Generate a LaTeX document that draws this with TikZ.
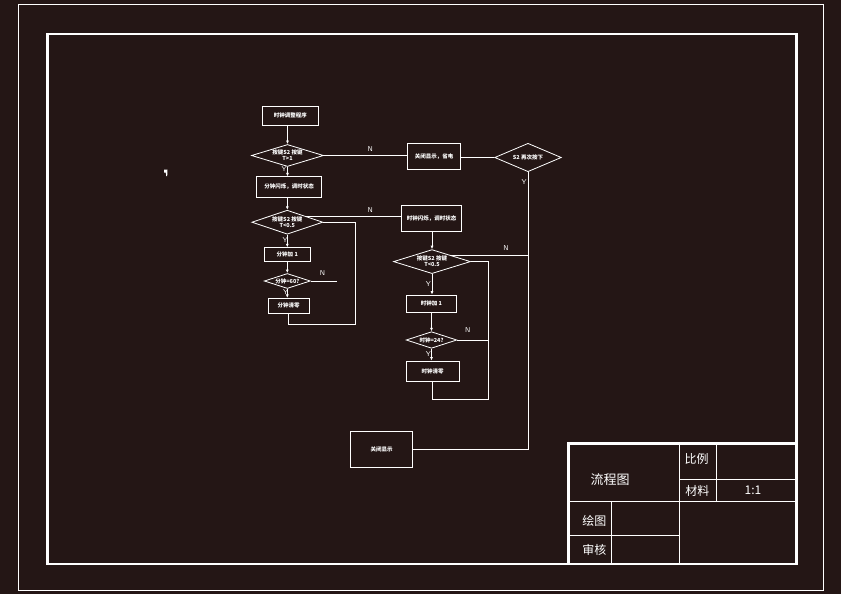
\documentclass[tikz,border=0pt]{standalone}
\usepackage{fontspec}
\newfontfamily\cjk{Noto Sans CJK SC}
\usetikzlibrary{shapes.geometric,arrows.meta}
\definecolor{bg}{RGB}{36,22,21}
\begin{document}
\begin{tikzpicture}[x=1pt,y=-1pt,
  wl/.style={draw=white,line width=0.8pt},
  fbox/.style={wl,text=white,inner sep=0pt,font=\cjk\bfseries\fontsize{5.5}{6}\selectfont},
  dia/.style={wl,shape=diamond,inner sep=0pt},
  dtext/.style={text=white,inner sep=0pt,align=center,font=\cjk\bfseries\fontsize{5.5}{6}\selectfont},
  arr/.style={wl,-{Latex[length=3.5pt,width=3pt]}},
  yn/.style={text=white,inner sep=0pt,font=\sffamily\fontsize{7}{7}\selectfont},
  tbtext/.style={text=white,inner sep=0pt,font=\cjk\fontsize{12}{12}\selectfont},
  frthin/.style={draw=white,line width=0.9pt},
  frthick/.style={draw=white,line width=2.6pt}]
\fill[bg] (0,0) rectangle (841,594);
\useasboundingbox (0,0) rectangle (841,594);
% frames
\draw[frthin] (18.3,4.3) rectangle (823.3,590.3);
\draw[frthick] (47.3,34) rectangle (796.5,564);
% small marker
\fill[white] (164,169.5) -- (167.5,169.5) -- (167.2,176) -- (166.2,176) -- (165.8,172.5) -- (164,172.5) -- cycle;

% left column
\node[fbox,minimum width=56,minimum height=18.5] (b1) at (290.3,115.8) {时钟调整程序};
\node[dia,minimum width=72,minimum height=22,label={[dtext]center:按键S2 按键\\T>1}] (d1) at (287.5,155.5) {};
\node[fbox,minimum width=65,minimum height=20.5] (b3) at (289.2,187) {分钟闪烁，调时状态};
\node[dia,minimum width=71,minimum height=24,label={[dtext]center:按键S2 按键\\T<0.5}] (d2) at (287.3,222.2) {};
\node[fbox,minimum width=46.5,minimum height=14] (b7) at (287.3,254.7) {分钟加 1};
\node[dia,minimum width=46,minimum height=15,label={[dtext]center:分钟=60?}] (d5) at (287.3,281) {};
\node[fbox,minimum width=40.7,minimum height=15] (b8) at (288.6,305.8) {分钟清零};

% top right
\node[fbox,minimum width=53.4,minimum height=26] (b2) at (434,156.3) {关闭显示，省电};
\node[dia,minimum width=66.7,minimum height=28.4,label={[dtext]center:S2 再次按下}] (d6) at (528,157.5) {};

% right column
\node[fbox,minimum width=60,minimum height=26.7] (b4) at (431.7,218.3) {时钟闪烁，调时状态};
\node[dia,minimum width=77,minimum height=24,label={[dtext]center:按键S2 按键\\T<0.5}] (d3) at (432,261.6) {};
\node[fbox,minimum width=50.7,minimum height=17.3] (b5) at (431.5,303.7) {时钟加 1};
\node[dia,minimum width=50.7,minimum height=16.6,label={[dtext]center:时钟=24?}] (d4) at (431.5,340) {};
\node[fbox,minimum width=53.3,minimum height=20.7] (b6) at (432.7,371.3) {时钟清零};

% bottom box
\node[fbox,minimum width=62,minimum height=36.3] (b9) at (381.7,449.2) {关闭显示};

% coordinates for bends and free ends
\coordinate (l1a) at (355.6,324.3);
\coordinate (l1b) at (355.6,222.2);
\coordinate (d5n) at (336.7,281);
\coordinate (r1a) at (488.3,399.3);
\coordinate (r1b) at (488.3,261.6);
\coordinate (s2bot) at (528,449.3);

% connectors left column
\draw[arr] (b1.south -| d1.north) -- (d1.north);
\draw[arr] (d1.south) -- (d1.south |- b3.north);
\draw[arr] (b3.south -| d2.north) -- (d2.north);
\draw[arr] (d2.south) -- (b7.north);
\draw[arr] (b7.south) -- (d5.north);
\draw[arr] (d5.south) -- (d5.south |- b8.north);
\draw[wl] (d5.east) -- (d5n);
\draw[wl] (b8.south) -- (b8.south |- l1a) -- (l1a) -- (l1b) -- (d2.east);

% N branches
\draw[wl] (d1.east) -- (b2.west |- d1.east);
\draw[wl] (b2.east |- d6.west) -- (d6.west);
\draw[wl] (d2.north east) -- (d2.north east -| b4.west);
\draw[wl] (d6.south) -- (s2bot) -- (b9.east |- s2bot);
\draw[wl] (d3.north east) -- (d3.north east -| s2bot);

% right column connectors
\draw[arr] (b4.south -| d3.north) -- (d3.north);
\draw[arr] (d3.south) -- (d3.south |- b5.north);
\draw[arr] (b5.south -| d4.north) -- (d4.north);
\draw[arr] (d4.south) -- (d4.south |- b6.north);
\draw[wl] (d4.east) -- (d4.east -| r1a);
\draw[wl] (b6.south) -- (b6.south |- r1a) -- (r1a) -- (r1b) -- (d3.east);

% Y / N labels
\node[yn] (n1) at (370.3,148.8) {N};
\node[yn] (y1) at (284,169.5) {Y};
\node[yn] (n2) at (370.3,210.3) {N};
\node[yn] (y2) at (285,240) {Y};
\node[yn] (n5) at (322.5,273) {N};
\node[yn] (y5) at (285.5,292) {Y};
\node[yn] (y6) at (524.2,182) {Y};
\node[yn] (n3) at (506,248.3) {N};
\node[yn] (y3) at (428.3,284.5) {Y};
\node[yn] (n4) at (467.7,330) {N};
\node[yn] (y4) at (428.3,354.5) {Y};

% title block
\draw[frthick] (568.5,564) -- (568.5,443.6) -- (796.5,443.6);
\draw[frthin] (679.3,443.6) -- (679.3,564);
\draw[frthin] (716,443.6) -- (716,501);
\draw[frthin] (679.3,479.3) -- (796.5,479.3);
\draw[frthin] (568.5,501) -- (796.5,501);
\draw[frthin] (611.7,501) -- (611.7,564);
\draw[frthin] (568.5,535) -- (679.3,535);
\node[tbtext,font=\cjk\fontsize{13}{13}\selectfont] (t1) at (610,479.5) {流程图};
\node[tbtext] (t2) at (696.5,459) {比例};
\node[tbtext] (t3) at (697.3,491) {材料};
\node[tbtext] (t4) at (753,490.5) {1:1};
\node[tbtext] (t5) at (594.3,520.7) {绘图};
\node[tbtext] (t6) at (594.3,549.5) {审核};
\end{tikzpicture}
\end{document}
